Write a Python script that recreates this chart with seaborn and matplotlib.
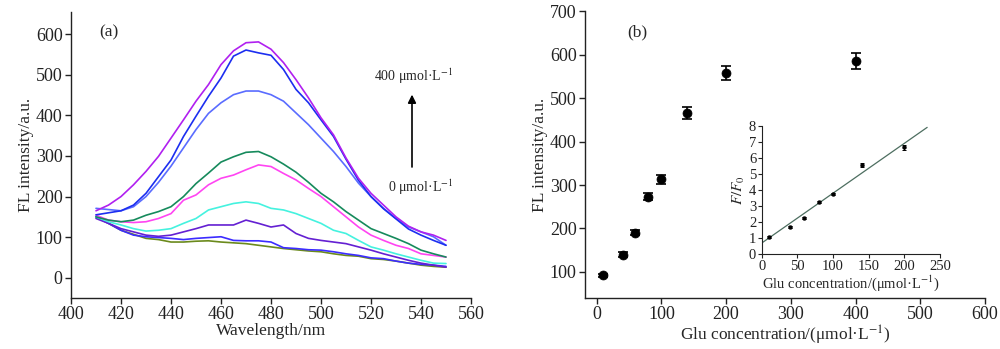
import numpy as np
import pandas as pd
import matplotlib
matplotlib.use("Agg")
import matplotlib.pyplot as plt
import seaborn as sns

# ---------------- data ----------------
wavelength = [410, 415, 420, 425, 430, 435, 440, 445, 450, 455,
              460, 465, 470, 475, 480, 485, 490, 495, 500, 505,
              510, 515, 520, 525, 530, 535, 540, 545, 550]

conc_labels = ["0", "10", "40", "60", "80", "100", "140", "200", "400"]

fl_0 = [150, 134, 117, 107, 97, 94, 88, 88, 90, 91,
        88, 86, 84, 80, 76, 72, 69, 66, 64, 59,
        55, 53, 47, 45, 41, 36, 31, 28, 26]
fl_10 = [150, 134, 117, 105, 101, 99, 97, 94, 97, 99,
         101, 92, 91, 91, 88, 74, 72, 69, 68, 64,
         59, 55, 49, 47, 41, 36, 33, 31, 28]
fl_40 = [146, 134, 121, 113, 105, 102, 105, 113, 121, 130,
         130, 130, 142, 134, 125, 130, 109, 97, 92, 88,
         84, 76, 68, 59, 51, 43, 36, 31, 26]
fl_60 = [150, 138, 130, 121, 115, 117, 121, 134, 146, 167,
         175, 183, 187, 183, 171, 167, 158, 146, 134, 117,
         109, 92, 76, 68, 59, 51, 43, 36, 35]
fl_80 = [154, 142, 138, 136, 138, 146, 158, 191, 204, 229,
         245, 253, 266, 278, 274, 257, 241, 220, 200, 175,
         150, 125, 105, 92, 80, 72, 59, 55, 51]
fl_100 = [150, 142, 138, 142, 154, 163, 175, 200, 232, 258,
          285, 298, 309, 311, 298, 280, 260, 235, 208, 187,
          163, 142, 121, 109, 97, 84, 68, 59, 51]
fl_140 = [171, 168, 165, 175, 200, 235, 275, 320, 365, 405,
          431, 451, 460, 460, 451, 435, 406, 377, 344, 311,
          274, 233, 200, 171, 146, 125, 113, 101, 80]
fl_200 = [155, 160, 165, 179, 208, 249, 290, 348, 398, 447,
          492, 546, 561, 554, 548, 513, 464, 431, 389, 348,
          292, 240, 200, 170, 145, 120, 105, 92, 80]
fl_400 = [165, 179, 200, 229, 262, 299, 344, 389, 435, 476,
          525, 559, 579, 581, 563, 530, 488, 443, 394, 352,
          295, 245, 208, 179, 150, 127, 113, 105, 92]

spectra = [fl_0, fl_10, fl_40, fl_60, fl_80, fl_100, fl_140, fl_200, fl_400]

glu_conc = [10, 40, 60, 80, 100, 140, 200, 400]
fl_int = [92, 140, 190, 273, 313, 465, 558, 585]
fl_err = [4, 6, 6, 8, 10, 14, 17, 18]

lin_conc = [10, 40, 60, 80, 100, 140, 200]
ratio = [1.07, 1.68, 2.25, 3.25, 3.75, 5.55, 6.65]
ratio_err = [0.06, 0.07, 0.07, 0.09, 0.08, 0.13, 0.16]
fit_slope = 0.031
fit_intercept = 0.70
fit_range = [0, 232]

colors = ["#6b8a1c", "#3c2cff", "#6420d2", "#45f2df", "#ff45f2",
          "#168a5c", "#5a6cff", "#1c2ef0", "#b020f0"]

# ---------------- style ----------------
sns.set_theme(style="ticks")
plt.rcParams["font.family"] = ["Liberation Serif", "DejaVu Serif"]
plt.rcParams["mathtext.fontset"] = "stix"
plt.rcParams["axes.linewidth"] = 1.0
plt.rcParams["xtick.major.width"] = 1.0
plt.rcParams["ytick.major.width"] = 1.0
plt.rcParams["xtick.major.size"] = 4
plt.rcParams["ytick.major.size"] = 4
plt.rcParams["axes.edgecolor"] = "#222222"

fig = plt.figure(figsize=(10, 3.49), dpi=100)

# ---------------- panel (a) ----------------
ax1 = fig.add_axes([0.071, 0.146, 0.400, 0.820])
rows = []
for lab, vals in zip(conc_labels, spectra):
    for w, v in zip(wavelength, vals):
        rows.append({"wl": w, "fl": v, "c": lab})
df = pd.DataFrame(rows)
sns.lineplot(data=df, x="wl", y="fl", hue="c", hue_order=conc_labels,
             palette=colors, linewidth=1.2, legend=False, ax=ax1)
ax1.set_xlim(400, 560)
ax1.set_ylim(-50, 655)
ax1.set_xticks(np.arange(400, 561, 20))
ax1.set_yticks(np.arange(0, 601, 100))
ax1.tick_params(labelsize=13, colors="#222222", pad=2)
ax1.set_xlabel("Wavelength/nm", fontsize=12.5, labelpad=0)
ax1.set_ylabel("FL intensity/a.u.", fontsize=12.5, labelpad=1)
sns.despine(ax=ax1)
ax1.text(0.07, 0.955, "(a)", transform=ax1.transAxes, fontsize=12.5,
         ha="left", va="top")
ax1.annotate("", xy=(536.4, 458), xytext=(536.4, 266),
             arrowprops=dict(arrowstyle="-|>", color="black", lw=1.2,
                             mutation_scale=12))
ax1.text(537, 496, "400 μmol·L$^{-1}$", fontsize=10, ha="center", va="center")
ax1.text(540, 222, "0 μmol·L$^{-1}$", fontsize=10, ha="center", va="center")

# ---------------- panel (b) ----------------
ax2 = fig.add_axes([0.585, 0.146, 0.400, 0.822])
ax2.errorbar(glu_conc, fl_int, yerr=fl_err, fmt="none", ecolor="black",
             elinewidth=1.2, capsize=3.5, capthick=1.2, zorder=2)
sns.scatterplot(x=glu_conc, y=fl_int, color="black", s=42, edgecolor="black",
                linewidth=0.5, ax=ax2, zorder=3)
ax2.set_xlim(-18, 600)
ax2.set_ylim(40, 700)
ax2.set_xticks(np.arange(0, 601, 100))
ax2.set_yticks(np.arange(100, 701, 100))
ax2.tick_params(labelsize=13, colors="#222222", pad=2)
ax2.set_xlabel("Glu concentration/(μmol·L$^{-1}$)", fontsize=12.5, labelpad=0)
ax2.set_ylabel("FL intensity/a.u.", fontsize=12.5, labelpad=1)
sns.despine(ax=ax2)
ax2.text(0.105, 0.955, "(b)", transform=ax2.transAxes, fontsize=12.5,
         ha="left", va="top")

# ---------------- inset ----------------
ax3 = fig.add_axes([0.7617, 0.2713, 0.1783, 0.3687])
fx = np.array(fit_range)
sns.lineplot(x=fx, y=fit_slope * fx + fit_intercept, color="#4d6e60",
             linewidth=0.9, ax=ax3)
ax3.errorbar(lin_conc, ratio, yerr=ratio_err, fmt="none", ecolor="black",
             elinewidth=0.7, capsize=1.5, capthick=0.7, zorder=2)
sns.scatterplot(x=lin_conc, y=ratio, color="black", s=8, edgecolor="black",
                linewidth=0.3, ax=ax3, zorder=3)
ax3.set_xlim(0, 250)
ax3.set_ylim(0, 8)
ax3.set_xticks(np.arange(0, 251, 50))
ax3.set_yticks(np.arange(0, 9, 1))
ax3.tick_params(labelsize=10.5, length=3, width=0.8, pad=1, colors="#222222")
for s in ax3.spines.values():
    s.set_linewidth(0.8)
ax3.set_xlabel("Glu concentration/(μmol·L$^{-1}$)", fontsize=10.5, labelpad=0)
ax3.set_ylabel("$F/F_0$", fontsize=11, labelpad=1)
sns.despine(ax=ax3)
ax3.patch.set_alpha(0)

fig.savefig("out.png", dpi=100)
